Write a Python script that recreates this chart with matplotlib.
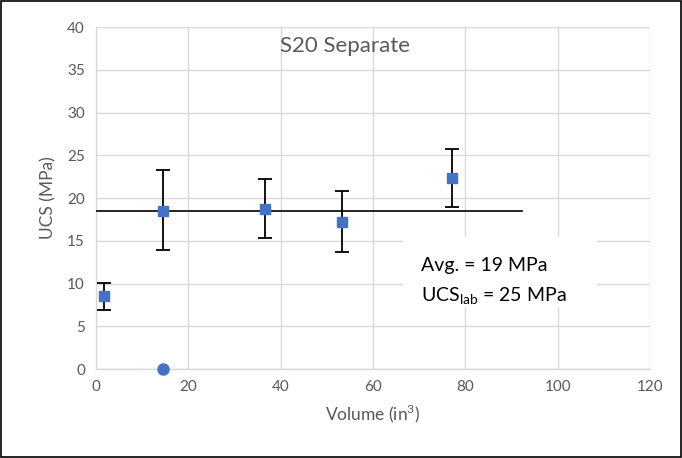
import numpy as np
import matplotlib
matplotlib.use("Agg")
import matplotlib.pyplot as plt
from matplotlib.patches import Rectangle

plt.rcParams['font.family'] = ['Lato', 'DejaVu Sans']

# data
vol = [1.7, 14.5, 36.5, 53.3, 77.1]
ucs = [8.5, 18.5, 18.7, 17.2, 22.3]
err_lo = [1.6, 4.6, 3.4, 3.5, 3.4]
err_hi = [1.6, 4.8, 3.5, 3.6, 3.4]
zero_vol = [14.5]
zero_ucs = [0.0]
avg_ucs = 18.5
avg_xmax = 92.3

fig = plt.figure(figsize=(6.82, 4.58), dpi=100)
ax = fig.add_axes([0.1408, 0.194, 0.953 - 0.1408, 0.941 - 0.194])

# outer frame
fig.patches.append(Rectangle((0.002, 0.003), 0.996, 0.994, transform=fig.transFigure,
                             fill=False, edgecolor='black', linewidth=1.2))

grey = '#595959'
ax.set_xlim(0, 120)
ax.set_ylim(0, 40)
ax.set_xticks(np.arange(0, 121, 20))
ax.set_yticks(np.arange(0, 41, 5))
ax.grid(True, color='#d9d9d9', linewidth=1.0)
ax.set_axisbelow(True)
for s in ['top', 'right']:
    ax.spines[s].set_visible(False)
for s in ['left', 'bottom']:
    ax.spines[s].set_color('#d9d9d9')
    ax.spines[s].set_linewidth(1.0)
ax.tick_params(length=0, labelsize=11, labelcolor=grey, pad=8)

ax.plot([0, avg_xmax], [avg_ucs, avg_ucs], color='black', linewidth=1.2, zorder=3)

ax.errorbar(vol, ucs, yerr=[err_lo, err_hi], fmt='s', color='#4472C4', markersize=7.5,
            ecolor='black', elinewidth=1.3, capsize=5, capthick=1.3, zorder=4)
ax.plot(zero_vol, zero_ucs, 'o', color='#4472C4', markersize=8, clip_on=False, zorder=5)

ax.text(0.45, 0.945, 'S20 Separate', transform=ax.transAxes, ha='center', va='center',
        fontsize=16, color=grey)

# annotation box
ax.add_patch(Rectangle((66.5, 7.3), 42, 8.2, facecolor='white', edgecolor='none', zorder=2))
ax.text(70.5, 12.1, 'Avg. = 19 MPa', fontsize=14, color='black', va='center', zorder=3)
ax.text(70.5, 8.5, r'UCS$_{\mathregular{lab}}$ = 25 MPa', fontsize=14, color='black',
        va='center', zorder=3)

ax.set_xlabel(r'Volume (in$^{\mathregular{3}}$)', fontsize=12.5, color=grey, labelpad=6)
ax.set_ylabel('UCS (MPa)', fontsize=12.5, color=grey, labelpad=8)

fig.savefig('out.png', dpi=100)
